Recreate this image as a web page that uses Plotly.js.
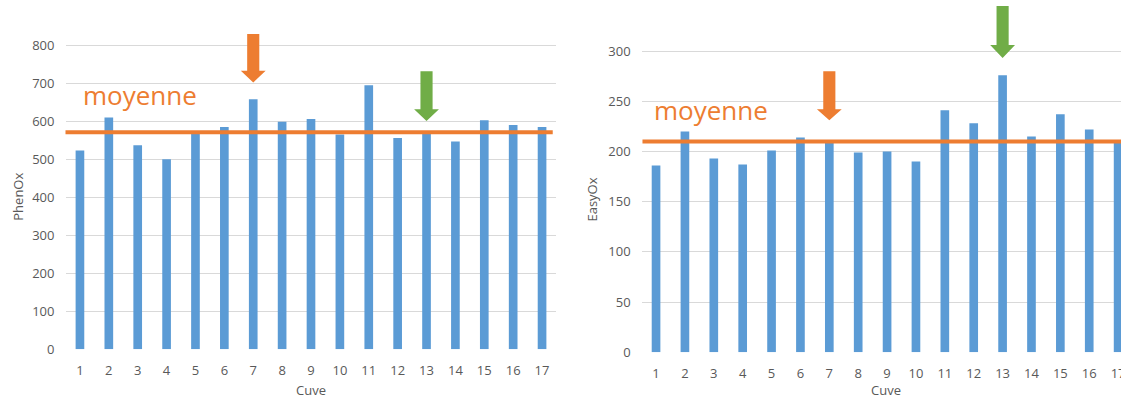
<!DOCTYPE html>
<html>
<head>
<meta charset="utf-8">
<script src="https://cdn.plot.ly/plotly-3.0.1.min.js"></script>
<style>html,body{margin:0;padding:0;background:#fff;}#chart{width:1121px;height:400px;}</style>
</head>
<body>
<div id="chart"></div>
<script>
// ---- Data ----
const cuves = [1, 2, 3, 4, 5, 6, 7, 8, 9, 10, 11, 12, 13, 14, 15, 16, 17];
const cuveLabels = ["1", "2", "3", "4", "5", "6", "7", "8", "9", "10", "11", "12", "13", "14", "15", "16", "17"];
const phenOx = [523, 610, 537, 500, 568, 585, 658, 599, 606, 565, 695, 556, 570, 547, 603, 590, 585];
const easyOx = [186, 220, 193, 187, 201, 214, 209, 199, 200, 190, 241, 228, 276, 215, 237, 222, 211];
const moyennePhenOx = 571;
const moyenneEasyOx = 210;
const flecheOrange = 7;   // cuve marked by orange arrow
const flecheVerte = 13;   // cuve marked by green arrow
const phenOxTicks = [0, 100, 200, 300, 400, 500, 600, 700, 800];
const easyOxTicks = [0, 50, 100, 150, 200, 250, 300];

// ---- Styles ----
const BLUE = "#5B9BD5", ORANGE = "#ED7D31", GREEN = "#70AD47";
const GRID = "#D9D9D9", TXT = "#595959";
const FONT = "Open Sans";

function arrowPath(xc, yTop, yHead, yTip, sh, hh) {
  return "M " + (xc - sh) + "," + yTop + " L " + (xc + sh) + "," + yTop +
         " L " + (xc + sh) + "," + yHead + " L " + (xc + hh) + "," + yHead +
         " L " + xc + "," + yTip + " L " + (xc - hh) + "," + yHead +
         " L " + (xc - sh) + "," + yHead + " Z";
}

const traces = [
  {type: "bar", x: cuves, y: phenOx, xaxis: "x", yaxis: "y", marker: {color: BLUE}, hoverinfo: "x+y"},
  {type: "bar", x: cuves, y: easyOx, xaxis: "x2", yaxis: "y2", marker: {color: BLUE}, hoverinfo: "x+y"}
];

const tickFont = {family: FONT, size: 13, color: TXT};

const layout = {
  width: 1121, height: 400,
  margin: {l: 0, r: 0, t: 0, b: 0},
  paper_bgcolor: "#ffffff", plot_bgcolor: "#ffffff",
  showlegend: false,
  bargap: 0.7,
  font: {family: FONT, color: TXT},
  xaxis: {domain: [0.05843, 0.49643], range: [0.5, 17.5], tickvals: cuves, ticktext: cuveLabels,
          showgrid: false, zeroline: false, showline: false, ticks: "", tickfont: tickFont,
          ticklabelstandoff: 12, anchor: "y", fixedrange: true},
  yaxis: {domain: [0.12675, 0.92475], range: [0, 840], tickvals: phenOxTicks,
          showgrid: true, gridcolor: GRID, gridwidth: 1, zeroline: false, showline: false,
          ticks: "", tickfont: tickFont, ticklabelstandoff: 10, anchor: "x", fixedrange: true},
  xaxis2: {domain: [0.57235, 1], range: [0.5, 17.1], tickvals: cuves, ticktext: cuveLabels,
          showgrid: false, zeroline: false, showline: false, ticks: "", tickfont: tickFont,
          ticklabelstandoff: 12, ticklabeloverflow: "allow", anchor: "y2", fixedrange: true},
  yaxis2: {domain: [0.11925, 0.98525], range: [0, 345], tickvals: easyOxTicks,
          showgrid: true, gridcolor: GRID, gridwidth: 1, zeroline: false, showline: false,
          ticks: "", tickfont: tickFont, ticklabelstandoff: 10, anchor: "x2", fixedrange: true},
  shapes: [
    {type: "line", xref: "x", yref: "y", x0: 0.45, x1: 17.37, y0: moyennePhenOx, y1: moyennePhenOx,
     line: {color: ORANGE, width: 4}},
    {type: "line", xref: "x2", yref: "y2", x0: 0.53, x1: 17.1, y0: moyenneEasyOx, y1: moyenneEasyOx,
     line: {color: ORANGE, width: 4}},
    {type: "path", xref: "x", yref: "y", path: arrowPath(flecheOrange, 830, 733, 702, 0.21, 0.43),
     fillcolor: ORANGE, line: {width: 0}},
    {type: "path", xref: "x", yref: "y", path: arrowPath(flecheVerte, 732, 632, 601, 0.21, 0.43),
     fillcolor: GREEN, line: {width: 0}},
    {type: "path", xref: "x2", yref: "y2", path: arrowPath(flecheOrange, 280, 242, 231, 0.21, 0.43),
     fillcolor: ORANGE, line: {width: 0}},
    {type: "path", xref: "x2", yref: "y2", path: arrowPath(flecheVerte, 345, 306, 293, 0.21, 0.43),
     fillcolor: GREEN, line: {width: 0}}
  ],
  annotations: [
    {text: "moyenne", xref: "paper", yref: "paper", x: 0.1249, y: 0.763, xanchor: "center", yanchor: "middle",
     showarrow: false, font: {family: FONT, size: 26, color: ORANGE}},
    {text: "moyenne", xref: "paper", yref: "paper", x: 0.6347, y: 0.725, xanchor: "center", yanchor: "middle",
     showarrow: false, font: {family: FONT, size: 26, color: ORANGE}},
    {text: "PhenOx", xref: "paper", yref: "paper", x: 0.0158, y: 0.5075, xanchor: "center", yanchor: "middle",
     textangle: -90, showarrow: false, font: {family: FONT, size: 13, color: TXT}},
    {text: "EasyOx", xref: "paper", yref: "paper", x: 0.5277, y: 0.5, xanchor: "center", yanchor: "middle",
     textangle: -90, showarrow: false, font: {family: FONT, size: 13, color: TXT}},
    {text: "Cuve", xref: "paper", yref: "paper", x: 0.2775, y: 0.0, xanchor: "center", yanchor: "bottom",
     borderpad: 0, showarrow: false, font: {family: FONT, size: 13, color: TXT}},
    {text: "Cuve", xref: "paper", yref: "paper", x: 0.7904, y: 0.0, xanchor: "center", yanchor: "bottom",
     borderpad: 0, showarrow: false, font: {family: FONT, size: 13, color: TXT}}
  ]
};

Plotly.newPlot("chart", traces, layout, {displayModeBar: false, staticPlot: true});
</script>
</body>
</html>
